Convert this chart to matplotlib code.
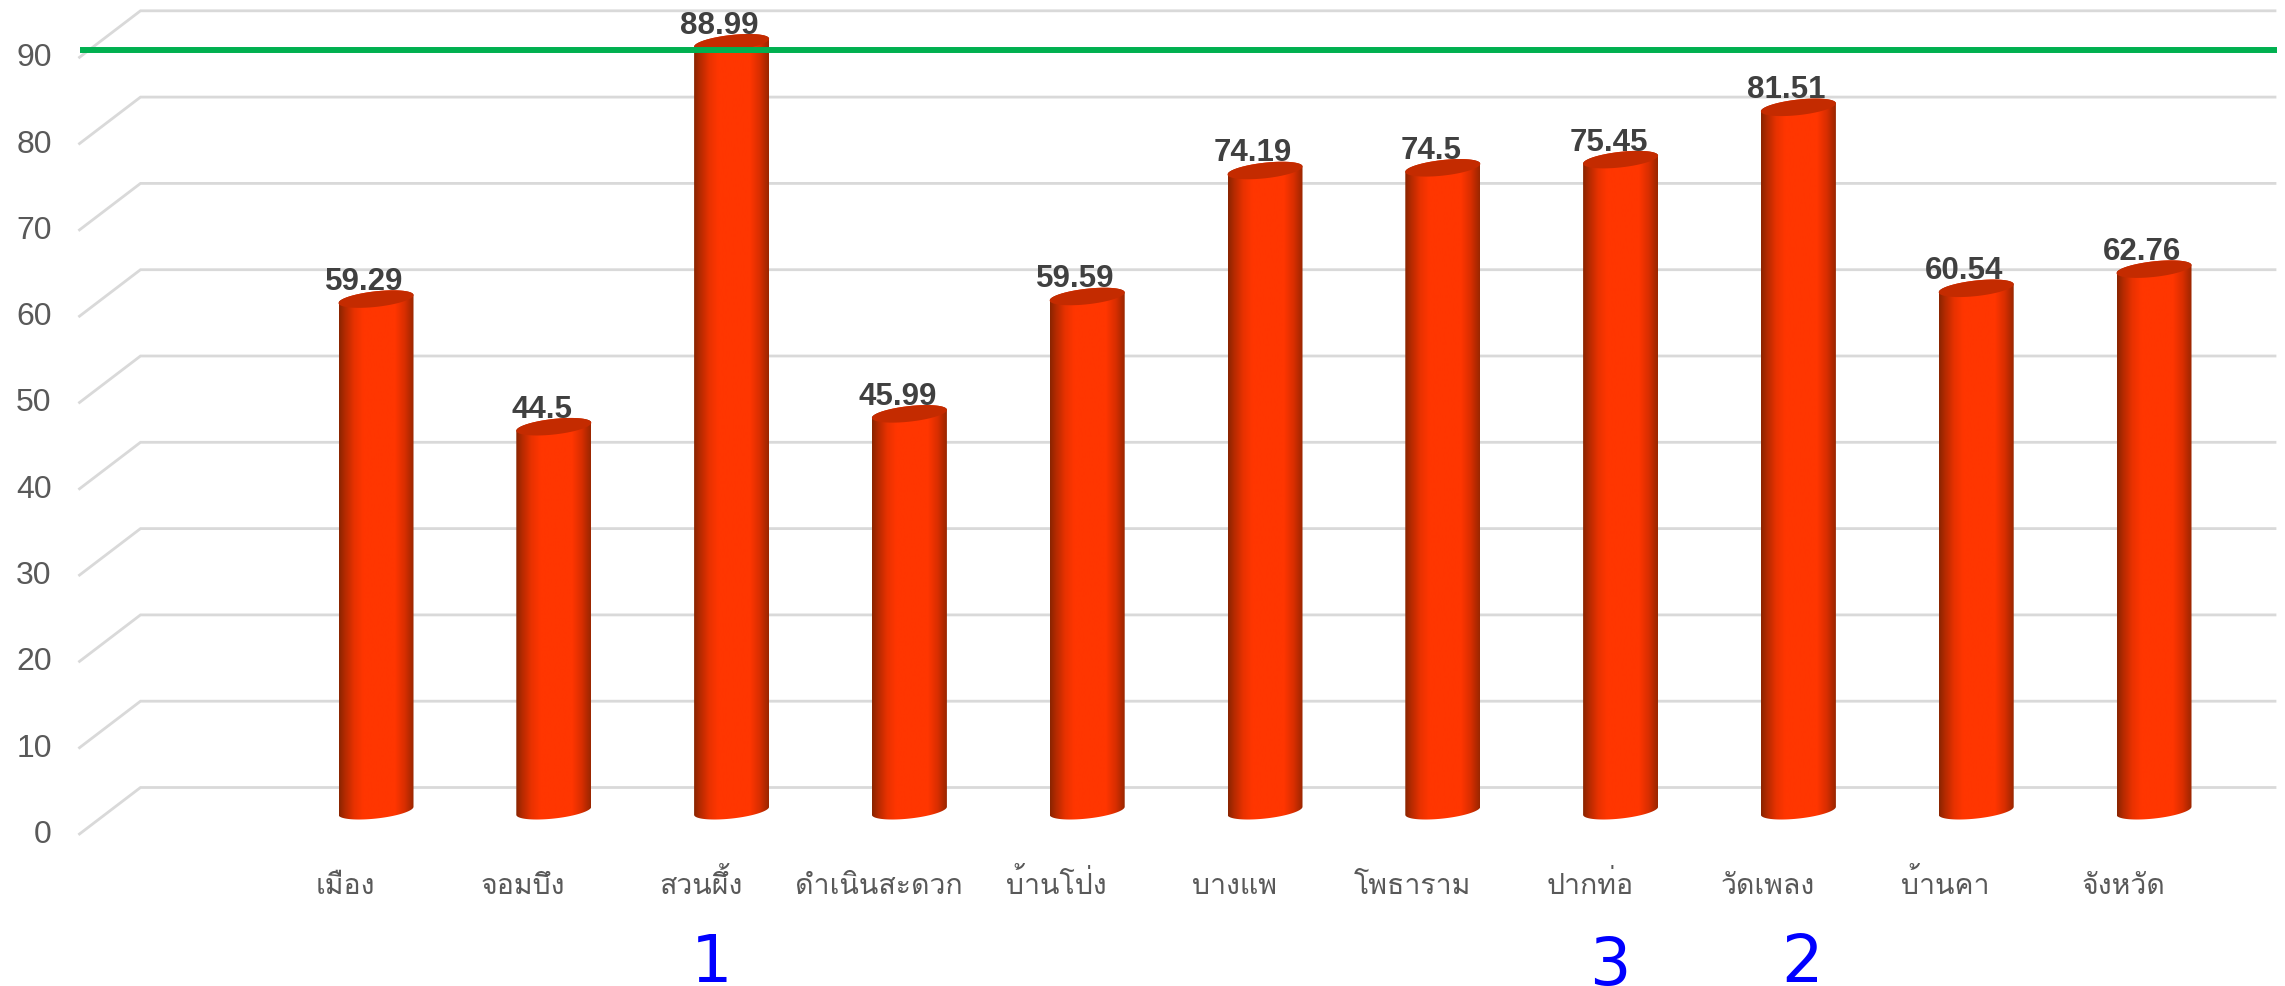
import numpy as np
import matplotlib
matplotlib.use('Agg')
import matplotlib.pyplot as plt
from matplotlib.colors import LinearSegmentedColormap
from matplotlib.patches import Polygon, PathPatch
from matplotlib.path import Path
from matplotlib.transforms import ScaledTranslation

categories = ['เมือง', 'จอมบึง', 'สวนผึ้ง', 'ดำเนินสะดวก', 'บ้านโป่ง', 'บางแพ',
              'โพธาราม', 'ปากท่อ', 'วัดเพลง', 'บ้านคา', 'จังหวัด']
values = [59.29, 44.5, 88.99, 45.99, 59.59, 74.19, 74.5, 75.45, 81.51, 60.54, 62.76]
value_labels = ['59.29', '44.5', '88.99', '45.99', '59.59', '74.19', '74.5', '75.45', '81.51', '60.54', '62.76']
y_ticks = [0, 10, 20, 30, 40, 50, 60, 70, 80, 90]
target = 90.9
rank_labels = ['1', '3', '2']

W, H = 2285, 987
dpi = 100
fig = plt.figure(figsize=(W / dpi, H / dpi), dpi=dpi)

# axes front plane, in pixels
left, right, y0, px_per_unit = 79.5, 2285, 835, 8.63
ax = fig.add_axes([left / W, (H - y0) / H, (right - left) / W, y0 / H])
px_per_cat, x0 = 177.8, 345.5
ax.set_xlim((left - x0) / px_per_cat, (right - x0) / px_per_cat)
ax.set_ylim(0, y0 / px_per_unit)
for s in ax.spines.values():
    s.set_visible(False)

ux = 1 / px_per_cat
uy = 1 / px_per_unit
depth_x, depth_y = 61 * ux, 46.5 * uy
xmin = ax.get_xlim()[0]
grid_end = xmin + (2275 - left) * ux

# grid with the 3d floor/wall corner
for v in y_ticks:
    ax.plot([xmin, xmin + depth_x, grid_end], [v, v + depth_y, v + depth_y],
            color='#D9D9D9', lw=2.0, zorder=1, clip_on=False, solid_joinstyle='miter')

ax.set_xticks(range(len(categories)))
ax.set_xticklabels(categories, family=['Loma', 'DejaVu Sans'], fontsize=20.5, color='#595959',
                   va='baseline')
ax.set_yticks(y_ticks)
ax.set_yticklabels([str(v) for v in y_ticks], family='Liberation Sans', fontsize=23, color='#595959')
ax.tick_params(axis='both', length=0)
ax.tick_params(axis='x', pad=42.5)
ax.tick_params(axis='y', pad=20)
# tick labels sit a little higher than their gridlines
up = ScaledTranslation(0, 3.5 / dpi, fig.dpi_scale_trans)
for lab in ax.get_yticklabels():
    lab.set_transform(lab.get_transform() + up)

shade = LinearSegmentedColormap.from_list('cyl', [
    (0.0, '#8A2400'), (0.08, '#B52A00'), (0.2, '#E83200'), (0.32, '#FF3600'),
    (0.75, '#FF3600'), (0.88, '#D92E00'), (1.0, '#9A2600')])
grad = np.linspace(0, 1, 128).reshape(1, -1)

a, b, tilt = 37.5, 7.8, 4.0
t = np.linspace(0, 2 * np.pi, 121)
ell_x = a * np.cos(t) * ux
ell_y = (tilt * np.cos(t) + b * np.sin(t)) * uy
t_low = np.linspace(np.pi, 2 * np.pi, 61)
low_x = a * np.cos(t_low) * ux
low_y = (tilt * np.cos(t_low) + b * np.sin(t_low)) * uy
t_up = np.linspace(0, np.pi, 61)
up_x = a * np.cos(t_up) * ux
up_y = (tilt * np.cos(t_up) + b * np.sin(t_up)) * uy

for i, v in enumerate(values):
    cx = i + depth_x / 2
    base = depth_y / 2
    top = v + depth_y / 2
    # body outline: bottom arc and top arc
    verts = np.vstack([np.column_stack([cx + low_x, base + low_y]),
                       np.column_stack([cx + up_x, top + up_y])])
    verts = np.vstack([verts, verts[0]])
    body = PathPatch(Path(verts), transform=ax.transData, facecolor='none', edgecolor='none')
    ax.add_patch(body)
    im = ax.imshow(grad, cmap=shade, aspect='auto', zorder=3, interpolation='bilinear',
                   extent=[cx - a * ux, cx + a * ux, base - 12 * uy, top + 12 * uy])
    im.set_clip_path(body)
    ax.add_patch(Polygon(np.column_stack([cx + ell_x, top + ell_y]), closed=True,
                         facecolor='#C42B00', edgecolor='none', zorder=4))
    ax.text(cx - 12 * ux, top + 18 * uy, value_labels[i], ha='center', va='center',
            family='Liberation Sans', fontweight='bold', fontsize=22.5, color='#404040', zorder=6,
            clip_on=False)

ax.set_xlim((left - x0) / px_per_cat, (right - x0) / px_per_cat)
ax.set_ylim(0, y0 / px_per_unit)

# target line
ax.plot([xmin + 0.5 * ux, grid_end + 2 * ux], [target, target], color='#00B050', lw=4.3, zorder=5,
        solid_capstyle='butt')

# rank numbers under the chart
rank_x = [712, 1610, 1802]
rank_base = [982, 985, 982]
for s, px, py in zip(rank_labels, rank_x, rank_base):
    fig.text(px / W, 1 - py / H, s, ha='center', va='baseline', family='DejaVu Sans',
             fontsize=47, color='#0000FF')

fig.savefig('out.png', dpi=dpi)
